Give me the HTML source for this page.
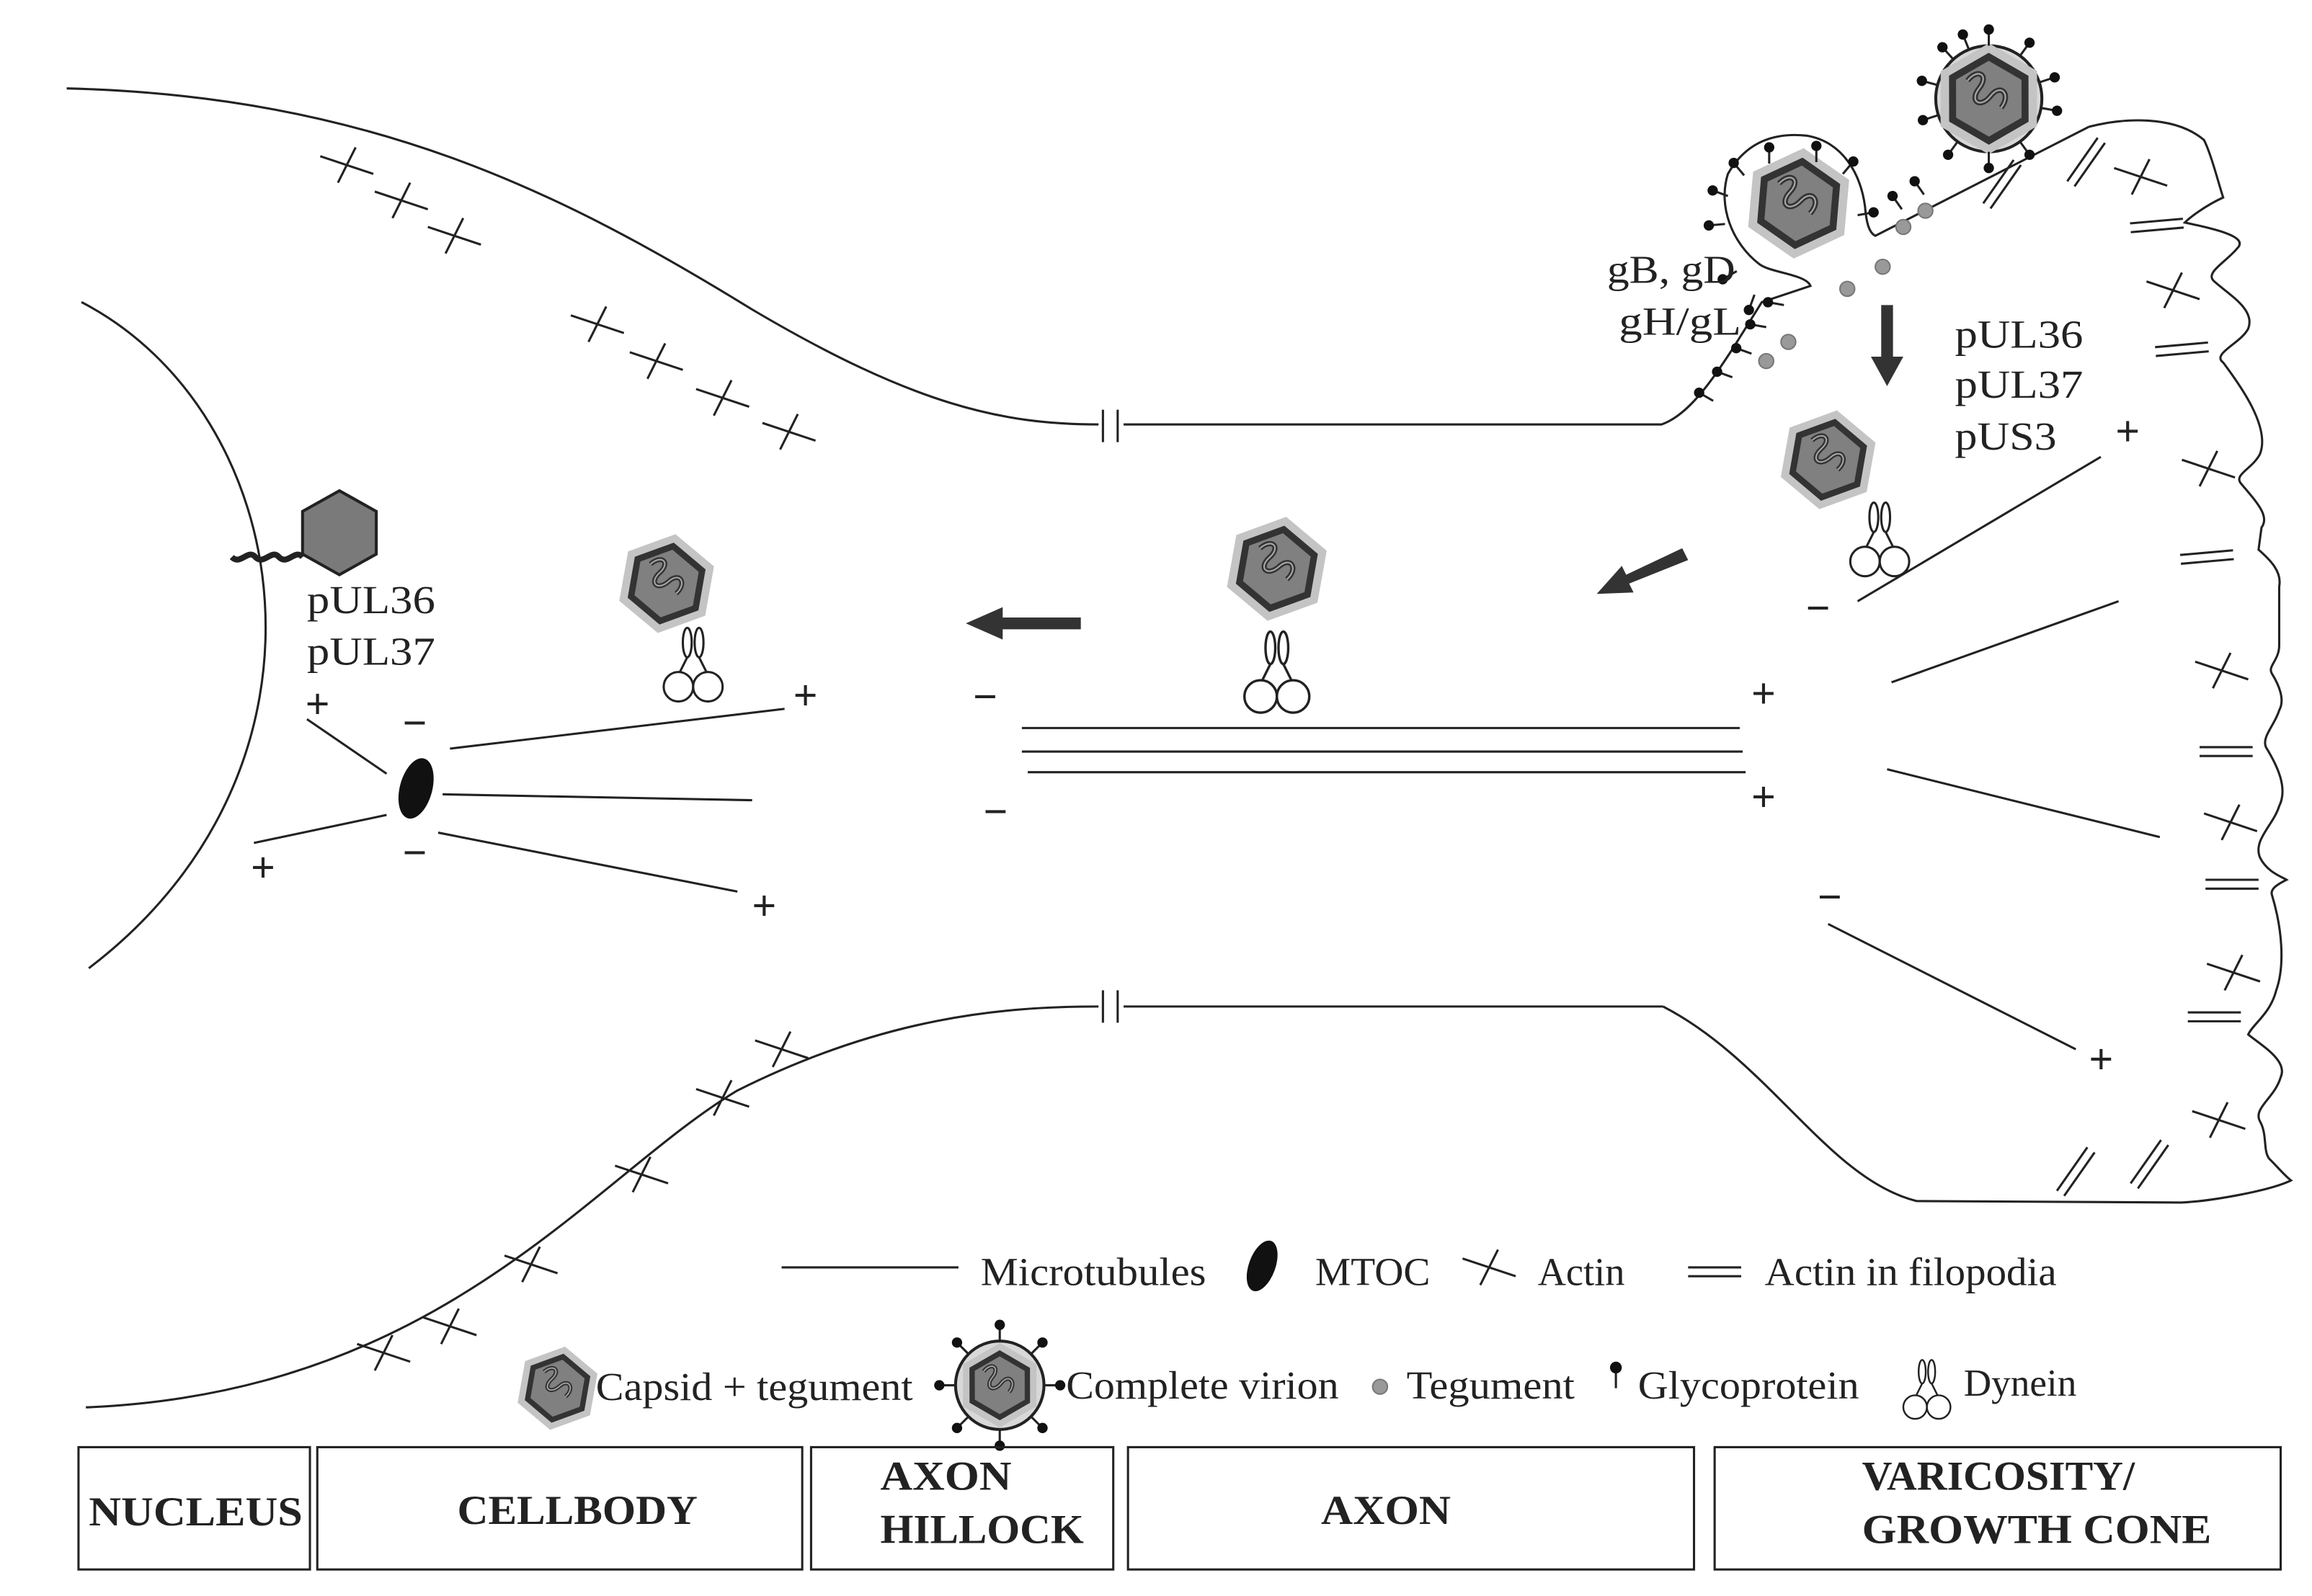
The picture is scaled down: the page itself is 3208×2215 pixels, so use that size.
<!DOCTYPE html>
<html><head><meta charset="utf-8"><style>html,body{margin:0;padding:0;background:#fff}svg{display:block}</style></head><body>
<svg width="3208" height="2215" viewBox="0 0 1568 1083" xmlns="http://www.w3.org/2000/svg" font-family="Liberation Serif, serif">
<defs>
<g id="cap">
<polygon points="-36,0 -18,-31 18,-31 36,0 18,31 -18,31" fill="#c4c4c4"/>
<polygon points="-27,0 -13.5,-23.5 13.5,-23.5 27,0 13.5,23.5 -13.5,23.5" fill="#808080" stroke="#333" stroke-width="4.5"/>
<path d="M-6,-17 c10,-4 14,4 4,8 c-10,4 -6,12 4,8 c10,-4 12,6 2,10" fill="none" stroke="#333" stroke-width="3.5"/>
<path d="M-6,-17 c10,-4 14,4 4,8 c-10,4 -6,12 4,8 c10,-4 12,6 2,10" fill="none" stroke="#aaa" stroke-width="1"/>
</g>
<g id="dyn" fill="#fff" stroke="#222" stroke-width="1.5">
<ellipse cx="-4" cy="-14" rx="3" ry="10"/><ellipse cx="4" cy="-14" rx="3" ry="10"/>
<path d="M-4,-4 L-10,8 M4,-4 L10,8" fill="none"/>
<circle cx="-10" cy="16" r="10"/><circle cx="10" cy="16" r="10"/>
</g>
<g id="x" stroke="#222" stroke-width="1.5"><line x1="-18" y1="-6" x2="18" y2="6"/><line x1="-6" y1="12" x2="6" y2="-12"/></g>
<g id="dl" stroke="#222" stroke-width="1.5"><line x1="-18" y1="-3" x2="18" y2="-3"/><line x1="-18" y1="3" x2="18" y2="3"/></g>
<g id="gp"><line x1="0" y1="0" x2="0" y2="-9" stroke="#222" stroke-width="1.5"/><circle cx="0" cy="-11" r="3.5" fill="#111"/></g>
</defs>
<g fill="none" stroke="#222" stroke-width="1.5">
<path d="M45,60 C250,65 380,130 510,210 C620,275 680,288 745,288"/>
<path d="M762,288 L1127,288 C1150,280 1170,245 1195,205 L1228,194 C1225,186 1200,185 1193,179 C1175,165 1165,140 1172,118 C1185,95 1205,90 1225,92 C1250,96 1262,118 1265,140 C1266,152 1268,158 1272,160 L1417,86"/>
<path d="M1417,86 C1440,80 1475,78 1495,95 C1500,105 1505,125 1508,134 C1495,140 1485,148 1482,151 C1500,155 1525,160 1518,168 C1510,178 1495,185 1502,191 C1512,200 1530,210 1525,223 C1520,233 1500,240 1508,246 C1520,262 1540,290 1533,308 C1528,318 1515,322 1520,328 C1530,340 1540,350 1534,358 L1532,373 C1540,380 1548,388 1546,398 L1546,438 C1546,448 1538,452 1541,457 C1546,465 1550,475 1546,482 C1543,492 1534,500 1537,507 C1545,520 1552,535 1546,547 C1542,560 1528,570 1533,582 C1538,592 1548,595 1551,597 C1545,600 1540,603 1541,607 C1548,630 1550,655 1544,672 C1540,688 1528,695 1525,702 C1535,710 1552,720 1547,731 C1543,745 1528,752 1533,761 C1538,770 1535,780 1539,786 C1545,792 1550,798 1554,801 C1540,808 1500,815 1480,816 L1300,815 C1240,800 1200,720 1128,683"/>
<path d="M58,955 C300,945 400,800 500,740 C600,690 680,683 745,683 M762,683 L1128,683"/>
<path d="M55,205 C200,280 240,520 60,657"/>
<path d="M748,278 V300 M758,278 V300 M748,672 V694 M758,672 V694"/>
<path d="M693,494 H1180 M693,510 H1182 M697,524 H1184"/>
<path d="M305,508 L532,481 M300,539 L510,543 M297,565 L500,605 M262,525 L208,488 M262,553 L172,572"/>
<path d="M1260,408 L1425,310 M1283,463 L1437,408 M1280,522 L1465,568 M1240,627 L1408,712"/>
<line x1="530" y1="860" x2="650" y2="860"/>
</g>
<ellipse cx="282" cy="535" rx="11" ry="21" fill="#111" transform="rotate(15 282 535)"/>
<ellipse cx="856" cy="859" rx="9" ry="18" fill="#111" transform="rotate(20 856 859)"/>
<g>
<use href="#x" x="235" y="112"/><use href="#x" x="272" y="136"/><use href="#x" x="308" y="160"/>
<use href="#x" x="405" y="220"/><use href="#x" x="445" y="245"/><use href="#x" x="490" y="270"/><use href="#x" x="535" y="293"/>
<use href="#x" x="260" y="918"/><use href="#x" x="305" y="900"/><use href="#x" x="360" y="858"/><use href="#x" x="435" y="797"/><use href="#x" x="490" y="745"/><use href="#x" x="530" y="712"/>
<use href="#x" x="1452" y="120"/><use href="#x" x="1474" y="197"/><use href="#x" x="1498" y="318"/><use href="#x" x="1507" y="455"/><use href="#x" x="1513" y="558"/><use href="#x" x="1515" y="660"/><use href="#x" x="1505" y="760"/>
<use href="#x" x="1010" y="860"/>
<use href="#dl" transform="translate(1358,125) rotate(-55)"/><use href="#dl" transform="translate(1415,110) rotate(-55)"/>
<use href="#dl" transform="translate(1463,153) rotate(-5)"/><use href="#dl" transform="translate(1480,237) rotate(-5)"/><use href="#dl" transform="translate(1497,378) rotate(-5)"/><use href="#dl" x="1510" y="510"/><use href="#dl" x="1514" y="600"/><use href="#dl" x="1502" y="690"/>
<use href="#dl" transform="translate(1408,795) rotate(-55)"/><use href="#dl" transform="translate(1458,790) rotate(-55)"/>
<use href="#dl" x="1163" y="863"/>
</g>
<use href="#cap" transform="translate(1220,138) rotate(-25) scale(1.05)"/>
<g>
<use href="#gp" transform="translate(1200,111) rotate(0)"/><use href="#gp" transform="translate(1232,110) rotate(0)"/>
<use href="#gp" transform="translate(1183,119) rotate(-40)"/><use href="#gp" transform="translate(1250,118) rotate(40)"/>
<use href="#gp" transform="translate(1172,133) rotate(-70)"/><use href="#gp" transform="translate(1260,146) rotate(80)"/>
<use href="#gp" transform="translate(1170,152) rotate(-95)"/><use href="#gp" transform="translate(1178,184) rotate(-120)"/>
<use href="#gp" transform="translate(1190,200) rotate(-160)"/>
<use href="#gp" transform="translate(1210,207) rotate(-80)"/><use href="#gp" transform="translate(1198,222) rotate(-80)"/>
<use href="#gp" transform="translate(1188,240) rotate(-70)"/><use href="#gp" transform="translate(1175,256) rotate(-70)"/><use href="#gp" transform="translate(1162,272) rotate(-60)"/>
<use href="#gp" transform="translate(1290,142) rotate(-35)"/><use href="#gp" transform="translate(1305,132) rotate(-35)"/>
</g>
<circle cx="1349" cy="67" r="36" fill="#d8d8d8" stroke="#222" stroke-width="2"/>
<use href="#cap" transform="translate(1349,67) rotate(-30) scale(1.05)"/>
<g>
<use href="#gp" transform="translate(1349,67) rotate(0) translate(0,-36)"/><use href="#gp" transform="translate(1349,67) rotate(-22) translate(0,-36)"/><use href="#gp" transform="translate(1349,67) rotate(36) translate(0,-36)"/><use href="#gp" transform="translate(1349,67) rotate(72) translate(0,-36)"/><use href="#gp" transform="translate(1349,67) rotate(100) translate(0,-36)"/><use href="#gp" transform="translate(1349,67) rotate(144) translate(0,-36)"/><use href="#gp" transform="translate(1349,67) rotate(180) translate(0,-36)"/><use href="#gp" transform="translate(1349,67) rotate(216) translate(0,-36)"/><use href="#gp" transform="translate(1349,67) rotate(252) translate(0,-36)"/><use href="#gp" transform="translate(1349,67) rotate(285) translate(0,-36)"/><use href="#gp" transform="translate(1349,67) rotate(318) translate(0,-36)"/>
</g>
<g fill="#999" stroke="#777" stroke-width="1"><circle cx="1198" cy="245" r="5"/><circle cx="1213" cy="232" r="5"/><circle cx="1253" cy="196" r="5"/><circle cx="1277" cy="181" r="5"/><circle cx="1291" cy="154" r="5"/><circle cx="1306" cy="143" r="5"/><circle cx="936" cy="941" r="5"/></g>
<use href="#cap" transform="translate(1240,312) rotate(-20) scale(0.95)"/><use href="#dyn" x="1275" y="365"/>
<use href="#cap" transform="translate(452,396) rotate(-20) scale(0.95)"/><use href="#dyn" x="470" y="450"/>
<use href="#cap" transform="translate(866,386) rotate(-20)"/><use href="#dyn" transform="translate(866,455) scale(1.1)"/>
<polygon points="230,333 255,347 255,376 230,390 205,376 205,347" fill="#7a7a7a" stroke="#222" stroke-width="2"/>
<path d="M205,378 c-5,-6 -10,6 -16,0 c-5,-6 -10,6 -16,0 c-5,-6 -10,6 -16,0" fill="none" stroke="#222" stroke-width="4"/>
<use href="#cap" transform="translate(378,942) rotate(-20) scale(0.8)"/>
<circle cx="678" cy="940" r="30" fill="#d8d8d8" stroke="#222" stroke-width="2"/><use href="#cap" transform="translate(678,940) rotate(-30) scale(0.8)"/>
<g><use href="#gp" transform="translate(678,940) rotate(0) translate(0,-30)"/><use href="#gp" transform="translate(678,940) rotate(45) translate(0,-30)"/><use href="#gp" transform="translate(678,940) rotate(90) translate(0,-30)"/><use href="#gp" transform="translate(678,940) rotate(135) translate(0,-30)"/><use href="#gp" transform="translate(678,940) rotate(180) translate(0,-30)"/><use href="#gp" transform="translate(678,940) rotate(225) translate(0,-30)"/><use href="#gp" transform="translate(678,940) rotate(270) translate(0,-30)"/><use href="#gp" transform="translate(678,940) rotate(315) translate(0,-30)"/></g>
<g transform="translate(1096,942)"><line x1="0" y1="0" x2="0" y2="-12" stroke="#222" stroke-width="1.5"/><circle cx="0" cy="-14" r="4" fill="#111"/></g>
<use href="#dyn" transform="translate(1307,942) scale(0.8)"/>
<g fill="#333">
<polygon points="733,419 680,419 680,412 655,423 680,434 680,427 733,427"/>
<polygon points="1141,372 1103,390 1100,384 1083,403 1108,402 1105,396 1145,380"/>
<polygon points="1276,207 1284,207 1284,242 1291,242 1280,262 1269,242 1276,242"/>
</g>
<g font-size="27" fill="#222">
<text x="1090" y="192" textLength="87" lengthAdjust="spacingAndGlyphs">gB, gD</text><text x="1098" y="227" textLength="83" lengthAdjust="spacingAndGlyphs">gH/gL</text>
<text x="1326" y="236" textLength="87" lengthAdjust="spacingAndGlyphs">pUL36</text><text x="1326" y="270" textLength="87" lengthAdjust="spacingAndGlyphs">pUL37</text><text x="1326" y="305" textLength="69" lengthAdjust="spacingAndGlyphs">pUS3</text>
<text x="208" y="416" textLength="87" lengthAdjust="spacingAndGlyphs">pUL36</text><text x="208" y="451" textLength="87" lengthAdjust="spacingAndGlyphs">pUL37</text>
<text x="665" y="872" textLength="153" lengthAdjust="spacingAndGlyphs">Microtubules</text><text x="892" y="872" textLength="78" lengthAdjust="spacingAndGlyphs">MTOC</text><text x="1043" y="872" textLength="59" lengthAdjust="spacingAndGlyphs">Actin</text><text x="1197" y="872" textLength="198" lengthAdjust="spacingAndGlyphs">Actin in filopodia</text>
<text x="404" y="950" textLength="215" lengthAdjust="spacingAndGlyphs">Capsid + tegument</text><text x="723" y="949" textLength="185" lengthAdjust="spacingAndGlyphs">Complete virion</text><text x="954" y="949" textLength="114" lengthAdjust="spacingAndGlyphs">Tegument</text><text x="1111" y="949" textLength="150" lengthAdjust="spacingAndGlyphs">Glycoprotein</text><text x="1332" y="947" font-size="26">Dynein</text>
</g>
<g font-size="28" fill="#222" font-family="Liberation Sans, sans-serif">
<text x="1435" y="302">+</text><text x="1225" y="422">−</text><text x="1188" y="480">+</text><text x="1188" y="550">+</text><text x="1233" y="618">−</text><text x="1417" y="728">+</text>
<text x="660" y="482">−</text><text x="667" y="560">−</text><text x="538" y="481">+</text><text x="510" y="624">+</text>
<text x="273" y="500">−</text><text x="273" y="588">−</text><text x="207" y="487">+</text><text x="170" y="598">+</text>
</g>
<g fill="none" stroke="#222" stroke-width="1.5">
<rect x="53" y="982" width="157" height="83"/><rect x="215" y="982" width="329" height="83"/><rect x="550" y="982" width="205" height="83"/><rect x="765" y="982" width="384" height="83"/><rect x="1163" y="982" width="384" height="83"/>
</g>
<g font-size="28" font-weight="bold" fill="#222">
<text x="60" y="1035" textLength="145" lengthAdjust="spacingAndGlyphs">NUCLEUS</text><text x="310" y="1034" textLength="163" lengthAdjust="spacingAndGlyphs">CELLBODY</text>
<text x="597" y="1011" textLength="89" lengthAdjust="spacingAndGlyphs">AXON</text><text x="597" y="1047" textLength="138" lengthAdjust="spacingAndGlyphs">HILLOCK</text>
<text x="896" y="1034" textLength="88" lengthAdjust="spacingAndGlyphs">AXON</text>
<text x="1263" y="1011" textLength="185" lengthAdjust="spacingAndGlyphs">VARICOSITY/</text><text x="1263" y="1047" textLength="237" lengthAdjust="spacingAndGlyphs">GROWTH CONE</text>
</g>
</svg>
</body></html>
